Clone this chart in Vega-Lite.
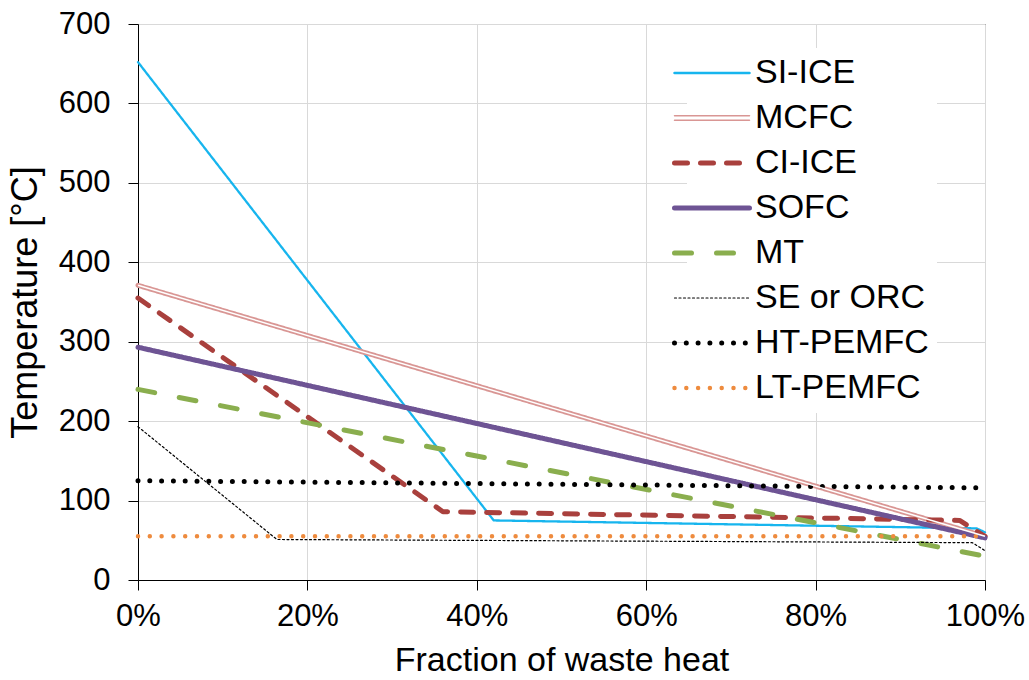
{
  "$schema": "https://vega.github.io/schema/vega-lite/v6.json",
  "width": 847,
  "height": 556,
  "autosize": {"type": "none"},
  "padding": {"left": 138, "top": 24, "right": 44, "bottom": 100},
  "background": "white",
  "config": {
    "font": "Liberation Sans",
    "view": {"stroke": "#000000", "strokeWidth": 1},
    "axis": {
      "labelFont": "Liberation Sans",
      "titleFont": "Liberation Sans",
      "labelColor": "#000000",
      "titleColor": "#000000",
      "labelFontSize": 31,
      "titleFontWeight": "normal",
      "domainColor": "#000000",
      "tickColor": "#000000",
      "tickSize": 10,
      "gridColor": "#D9D9D9",
      "gridWidth": 1
    },
    "legend": {
      "labelFont": "Liberation Sans",
      "labelFontSize": 34,
      "labelColor": "#000000",
      "labelLimit": 400
    }
  },
  "data": {
    "values": [
      {"series": "SI-ICE", "x": 0, "y": 652},
      {"series": "SI-ICE", "x": 0.42, "y": 75},
      {"series": "SI-ICE", "x": 0.99, "y": 65},
      {"series": "SI-ICE", "x": 1, "y": 60},
      {"series": "MCFC", "x": 0, "y": 371},
      {"series": "MCFC", "x": 1, "y": 55},
      {"series": "CI-ICE", "x": 0, "y": 355},
      {"series": "CI-ICE", "x": 0.36, "y": 86},
      {"series": "CI-ICE", "x": 0.97, "y": 75},
      {"series": "CI-ICE", "x": 1, "y": 55},
      {"series": "SOFC", "x": 0, "y": 293},
      {"series": "SOFC", "x": 1, "y": 53},
      {"series": "MT", "x": 0, "y": 240},
      {"series": "MT", "x": 1, "y": 30},
      {"series": "SE or ORC", "x": 0, "y": 193},
      {"series": "SE or ORC", "x": 0.164, "y": 51},
      {"series": "SE or ORC", "x": 0.985, "y": 47},
      {"series": "SE or ORC", "x": 1, "y": 37},
      {"series": "HT-PEMFC", "x": 0, "y": 125},
      {"series": "HT-PEMFC", "x": 1, "y": 116},
      {"series": "LT-PEMFC", "x": 0, "y": 55},
      {"series": "LT-PEMFC", "x": 1, "y": 55}
    ]
  },
  "encoding": {
    "x": {
      "field": "x",
      "type": "quantitative",
      "scale": {"domain": [0, 1], "nice": false},
      "axis": {
        "values": [0, 0.2, 0.4, 0.6, 0.8, 1],
        "format": ".0%",
        "title": "Fraction of waste heat",
        "titleFontSize": 34,
        "labelPadding": 11,
        "titlePadding": 12,
        "labelFlush": false
      }
    },
    "y": {
      "field": "y",
      "type": "quantitative",
      "scale": {"domain": [0, 700], "nice": false},
      "axis": {
        "values": [0, 100, 200, 300, 400, 500, 600, 700],
        "title": "Temperature [°C]",
        "titleFontSize": 36,
        "labelPadding": 18,
        "titlePadding": 14
      }
    }
  },
  "layer": [
    {
      "mark": {"type": "line", "strokeCap": "round", "strokeJoin": "round"},
      "encoding": {
        "color": {
          "field": "series",
          "type": "nominal",
          "scale": {
            "domain": ["SI-ICE", "MCFC", "CI-ICE", "SOFC", "MT", "SE or ORC", "HT-PEMFC", "LT-PEMFC"],
            "range": ["#17B5EE", "#D99694", "#A9403D", "#6E5494", "#8AAE4E", "#000000", "#000000", "#EE8B3E"]
          },
          "legend": {
            "title": null,
            "orient": "none",
            "legendX": 549,
            "legendY": 24,
            "padding": 8,
            "fillColor": "white",
            "symbolType": "stroke",
            "symbolSize": 5625,
            "rowPadding": 11,
            "labelOffset": 26,
            "encode": {
              "symbols": {
                "update": {
                  "strokeCap": {"value": "round"},
                  "shape": {"signal": "datum.value === 'MCFC' ? 'M-1,-0.06H1M-1,0.06H1' : 'stroke'"},
                  "strokeWidth": {"signal": "datum.value === 'SI-ICE' ? 2.5 : datum.value === 'SE or ORC' ? 1.2 : datum.value === 'MCFC' ? 1.5 : datum.value === 'LT-PEMFC' ? 4.5 : 5"}
                }
              }
            }
          }
        },
        "strokeDash": {
          "field": "series",
          "type": "nominal",
          "scale": {
            "domain": ["SI-ICE", "MCFC", "CI-ICE", "SOFC", "MT", "SE or ORC", "HT-PEMFC", "LT-PEMFC"],
            "range": [[1, 0], [1, 0], [13, 13], [1, 0], [17, 25], [2, 2.5], [0, 11.8], [0, 11.8]]
          }
        },
        "strokeWidth": {
          "condition": [
            {"test": "datum.series === 'SI-ICE'", "value": 2.3},
            {"test": "datum.series === 'SE or ORC'", "value": 1.2},
            {"test": "datum.series === 'LT-PEMFC'", "value": 4.5}
          ],
          "value": 5
        }
      }
    },
    {
      "transform": [{"filter": "datum.series === 'MCFC'"}],
      "mark": {"type": "line", "color": "white", "strokeWidth": 1.5},
      "encoding": {}
    }
  ]
}
